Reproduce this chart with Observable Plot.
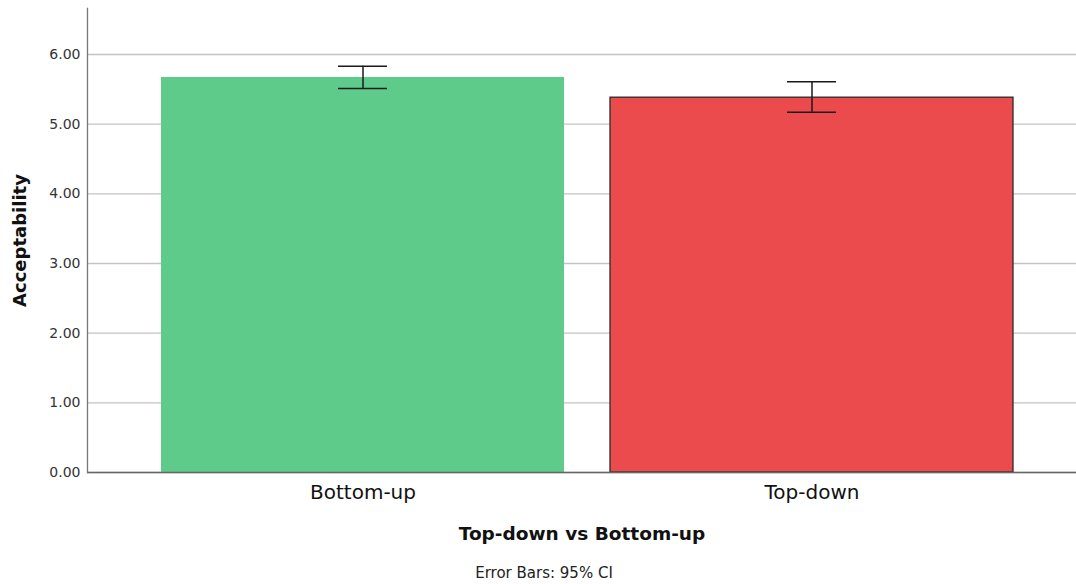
<!DOCTYPE html>
<html>
<head>
<meta charset="utf-8">
<script src="https://cdn.jsdelivr.net/npm/d3@7"></script>
<script src="https://cdn.jsdelivr.net/npm/@observablehq/plot@0.6"></script>
<style>
  html, body { margin: 0; padding: 0; background: #fff; }
</style>
</head>
<body>
<div id="chart"></div>
<script>
const categories = ["Bottom-up", "Top-down"];
const means = [5.67, 5.38];
const ciLow = [5.51, 5.17];
const ciHigh = [5.83, 5.61];
const colors = ["#5ECB8B", "#EC4B4D"];
const strokes = ["none", "#2a2a2a"];
const yTicks = [0, 1, 2, 3, 4, 5, 6];

const data = categories.map((c, i) => ({
  group: c, mean: means[i], lo: ciLow[i], hi: ciHigh[i], fill: colors[i], stroke: strokes[i]
}));

const chart = Plot.plot({
  width: 1076,
  height: 584,
  marginLeft: 87,
  marginRight: 0,
  marginTop: 8,
  marginBottom: 112,
  style: { fontFamily: "DejaVu Sans", background: "#fff", color: "#222" },
  x: { domain: categories, range: [87, 1076], paddingInner: 0.102, paddingOuter: 0.15, align: 0.54, label: null },
  y: { domain: [0, 6.66], label: null },
  marks: [
    Plot.gridY(yTicks, { stroke: "#c4c4c4", strokeOpacity: 1, strokeWidth: 1.3 }),
    Plot.barY(data, { x: "group", y: "mean", fill: "fill", stroke: "stroke", strokeWidth: 1.3 }),
    Plot.ruleX(data, { x: "group", y1: "lo", y2: "hi", stroke: "#1a1a1a", strokeWidth: 1.5 }),
    Plot.tickY(data, { x: "group", y: "lo", stroke: "#1a1a1a", strokeWidth: 1.5, insetLeft: 177, insetRight: 177 }),
    Plot.tickY(data, { x: "group", y: "hi", stroke: "#1a1a1a", strokeWidth: 1.5, insetLeft: 177, insetRight: 177 }),
    Plot.ruleY([0], { stroke: "#666", strokeWidth: 1.3 }),
    Plot.frame({ anchor: "left", stroke: "#777", strokeWidth: 1.3 }),
    Plot.axisY({ ticks: yTicks, tickFormat: d3.format(".2f"), tickSize: 0, tickPadding: 7, fontSize: 14, label: null, color: "#333" }),
    Plot.axisX({ tickSize: 0, tickPadding: 12, fontSize: 20, label: null, color: "#111" }),
    Plot.text(["Acceptability"], { frameAnchor: "left", textAnchor: "middle", rotate: -90, dx: -67, fontSize: 18, fontWeight: "bold", fill: "#111" }),
    Plot.text(["Top-down vs Bottom-up"], { frameAnchor: "bottom", dy: 67, fontSize: 18.5, fontWeight: "bold", fill: "#111" }),
    Plot.text(["Error Bars: 95% CI"], { frameAnchor: "bottom", dy: 105, dx: -38, fontSize: 15, fill: "#222" })
  ]
});
document.getElementById("chart").appendChild(chart);
</script>
</body>
</html>
